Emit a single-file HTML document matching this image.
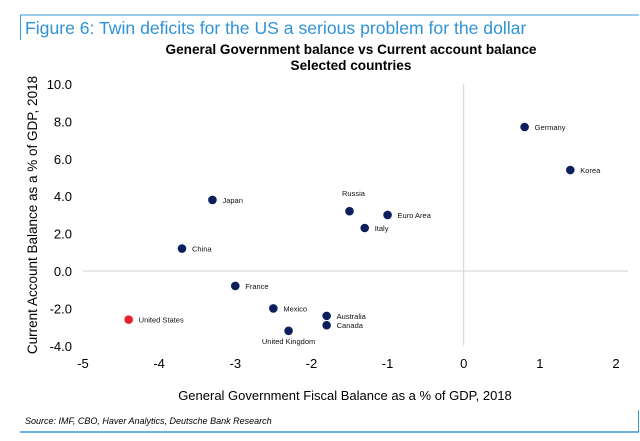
<!DOCTYPE html>
<html><head><meta charset="utf-8"><style>
body{margin:0;background:#fff;}
svg{display:block;font-family:"Liberation Sans",Arial,sans-serif;}
</style></head><body>
<svg width="640" height="441" viewBox="0 0 640 441">
<line x1="20" y1="15" x2="639" y2="15" stroke="#3a9ad9" stroke-width="1"/>
<line x1="20.5" y1="15" x2="20.5" y2="40" stroke="#3a9ad9" stroke-width="1"/>
<text x="25" y="34" font-size="17.6" fill="#2f93d6">Figure 6: Twin deficits for the US a serious problem for the dollar</text>
<text x="351" y="54" font-size="13.6" font-weight="bold" text-anchor="middle">General Government balance vs Current account balance</text>
<text x="351" y="70" font-size="13.6" font-weight="bold" text-anchor="middle">Selected countries</text>
<g id="plot"></g>
<text x="345" y="400" font-size="13" text-anchor="middle">General Government Fiscal Balance as a % of GDP, 2018</text>
<text transform="translate(37,215) rotate(-90)" font-size="13.5" text-anchor="middle">Current Account Balance as a  % of GDP, 2018</text>
<text x="25" y="424" font-size="9" font-style="italic">Source: IMF, CBO, Haver Analytics, Deutsche Bank Research</text>
<line x1="20" y1="432" x2="639" y2="432" stroke="#3a9ad9" stroke-width="1.5"/>
<line x1="638.5" y1="410" x2="638.5" y2="432" stroke="#3a9ad9" stroke-width="1"/>
</svg>
<script>
const countries=["Germany","Korea","Russia","Euro Area","Italy","Japan","China","France","Mexico","Australia","Canada","United Kingdom","United States"];
const fiscal=[0.8,1.4,-1.5,-1.0,-1.3,-3.3,-3.7,-3.0,-2.5,-1.8,-1.8,-2.3,-4.4];
const current=[7.7,5.4,3.2,3.0,2.3,3.8,1.2,-0.8,-2.0,-2.4,-2.9,-3.2,-2.6];
const xTicks=[-5,-4,-3,-2,-1,0,1,2];
const yTicks=[10,8,6,4,2,0,-2,-4];
const NS="http://www.w3.org/2000/svg";
const sx=v=>83+(v+5)*76.14;
const sy=v=>271-v*18.7;
const g=document.getElementById('plot');
function mk(t,a){const e=document.createElementNS(NS,t);for(const k in a)e.setAttribute(k,a[k]);g.appendChild(e);return e;}
let l=mk('line',{x1:83,y1:sy(0),x2:628,y2:sy(0),stroke:'#d0d0d0'});


l=mk('line',{x1:sx(0),y1:sy(10),x2:sx(0),y2:sy(-4),stroke:'#d0d0d0'});


xTicks.forEach(v=>{const t=mk('text',{x:sx(v),y:368,'font-size':13,'text-anchor':'middle'});t.textContent=v;

});
yTicks.forEach(v=>{const t=mk('text',{x:72,y:sy(v)+5,'font-size':13,'text-anchor':'end'});t.textContent=v.toFixed(1);

});
countries.forEach((c,i)=>{const x=sx(fiscal[i]),y=sy(current[i]);
const d=mk('circle',{cx:x,cy:y,r:4.3,fill:c==="United States"?'#e8202a':'#0b1f5c'});


let lx=x+10,ly=y+3,anc='start';
if(c==="Russia"){lx=x+4;ly=y-15;anc='middle';}
if(c==="United Kingdom"){lx=x;ly=y+13;anc='middle';}
const t=mk('text',{x:lx,y:ly,'font-size':7.5,'text-anchor':anc,fill:'#111'});t.textContent=c;

});
</script>
</body></html>
